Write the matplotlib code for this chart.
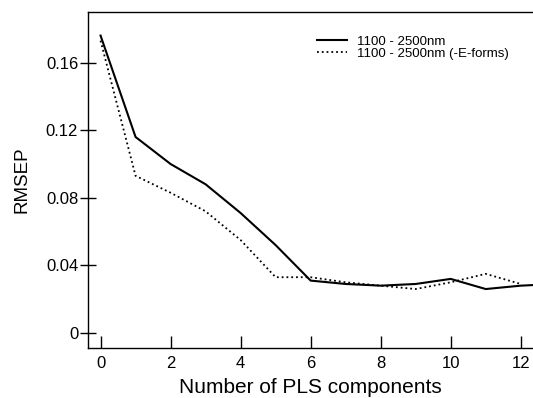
import matplotlib
matplotlib.use("Agg")
import matplotlib.pyplot as plt

plt.rcParams['font.family'] = ['Liberation Sans', 'DejaVu Sans']

# number of PLS components
comps = [0, 1, 2, 3, 4, 5, 6, 7, 8, 9, 10, 11, 12, 13]
# RMSEP, full range
rmsep_all = [0.176, 0.116, 0.100, 0.088, 0.071, 0.052, 0.031, 0.029, 0.028, 0.029, 0.032, 0.026, 0.028, 0.029]
# RMSEP, without E-forms
comps_e = [0, 1, 2, 3, 4, 5, 6, 7, 8, 9, 10, 11, 12]
rmsep_noe = [0.173, 0.093, 0.083, 0.072, 0.055, 0.033, 0.033, 0.030, 0.028, 0.026, 0.030, 0.035, 0.029]

yticks = [0, 0.04, 0.08, 0.12, 0.16]
ylabels = ['0', '0.04', '0.08', '0.12', '0.16']
xticks = [0, 2, 4, 6, 8, 10, 12]

fig = plt.figure(figsize=(5.33, 3.98), dpi=100)
ax = fig.add_axes([0.165, 0.1256, 0.835, 0.8444])

ax.plot(comps, rmsep_all, '-', color='black', lw=1.5, label='1100 - 2500nm')
ax.plot(comps_e, rmsep_noe, ':', color='black', lw=1.3, label='1100 - 2500nm (-E-forms)')

ax.set_xlim(-0.36, 12.35)
ax.set_ylim(-0.0089, 0.190)
ax.set_xticks(xticks)
ax.set_yticks(yticks)
ax.set_yticklabels(ylabels)

ax.spines['right'].set_visible(False)
for s in ['left', 'top', 'bottom']:
    ax.spines[s].set_linewidth(1.0)

ax.tick_params(axis='y', direction='inout', length=12, width=1, pad=1, labelsize=12)
ax.tick_params(axis='x', direction='in', length=9, width=1, pad=6, labelsize=12)

ax.set_xlabel('Number of PLS components', fontsize=15, labelpad=5)
ax.set_ylabel('RMSEP', fontsize=13.5, labelpad=11)

ax.legend(loc='upper left', bbox_to_anchor=(0.515, 0.93), frameon=False,
          borderaxespad=0, borderpad=0,
          fontsize=9.5, handlelength=2.3, handletextpad=0.75, labelspacing=0.0)

fig.savefig('out.png', dpi=100)
